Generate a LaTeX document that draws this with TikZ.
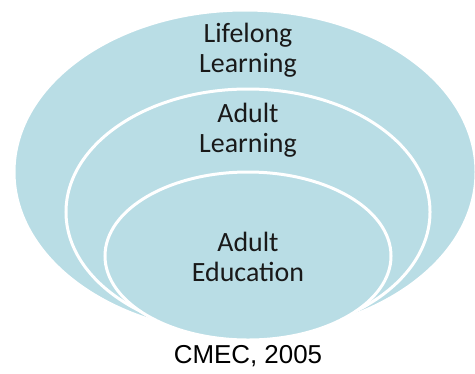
\documentclass[tikz,border=0pt]{standalone}
\usepackage{fontspec}
\setmainfont{Carlito}
\newfontfamily\captionfont{Liberation Sans}
\definecolor{ringblue}{HTML}{B9DDE5}
\begin{document}
\begin{tikzpicture}[x=1bp,y=-1bp,
    ring/.style={fill=ringblue,draw=white,line width=3bp},
    ringlabel/.style={align=center,inner sep=0pt,text=black!90,
        font=\fontsize{28}{30}\selectfont}]
	\useasboundingbox (0,0) rectangle (475,373);

	% outer, middle and inner rings
	\foreach \cx/\cy/\rx/\ry in {245/172/231/162,248/212/182/123,248/256/143/84}
	{
		\draw[ring] (\cx,\cy) ellipse [x radius=\rx bp, y radius=\ry bp];
	}

	\node[ringlabel] (lifelong) at (248,50) {Lifelong\\Learning};
	\node[ringlabel] (adultlearning) at (248,130) {Adult\\Learning};
	\node[ringlabel] (adulteducation) at (248,257) {Adult\\Education};

	\node[inner sep=0pt,font=\captionfont\fontsize{26}{30}\selectfont] (source) at (248,356) {CMEC, 2005};

\end{tikzpicture}
\end{document}
